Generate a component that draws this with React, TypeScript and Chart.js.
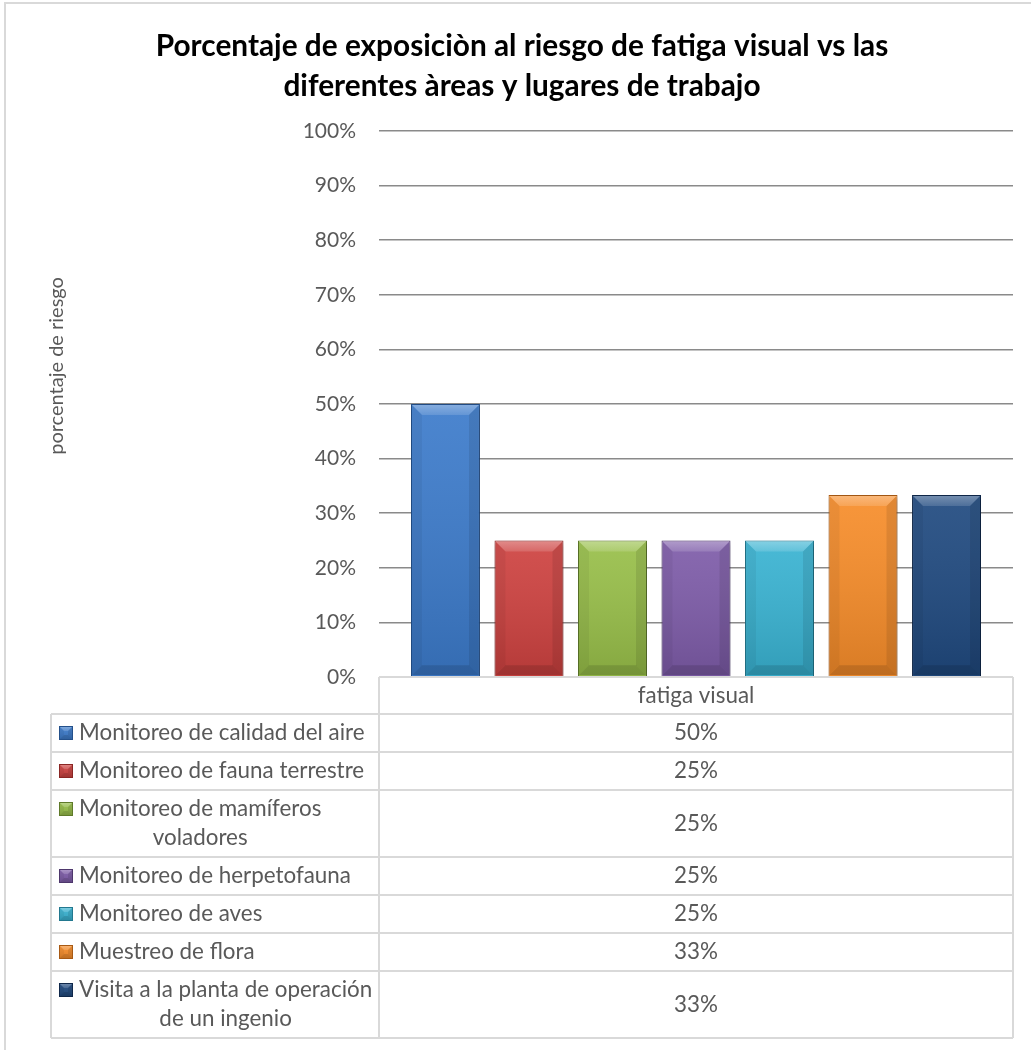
import React, { useEffect, useRef } from 'react';
import { Chart, registerables } from 'chart.js';

Chart.register(...registerables);

const FONT = 'Lato, "Open Sans", "DejaVu Sans", sans-serif';

const categories = ['fatiga visual'];
const seriesNames = [
  'Monitoreo de calidad del aire',
  'Monitoreo de fauna terrestre',
  'Monitoreo de mamíferos voladores',
  'Monitoreo de herpetofauna',
  'Monitoreo de aves',
  'Muestreo de flora',
  'Visita a la planta de operación de un ingenio',
];
const seriesValues = [50, 25, 25, 25, 25, 33.33, 33.33];
const seriesColors = ['#3C7BCB', '#CE4240', '#98BF49', '#7E5CA9', '#39B3D2', '#F78D2A', '#204A80'];
const seriesEdges = ['#24508A', '#8A2624', '#5F7A2A', '#4E376C', '#22788F', '#A85A14', '#10284A'];
const yTicks = [0, 10, 20, 30, 40, 50, 60, 70, 80, 90, 100];
const titleLines = [
  'Porcentaje de exposiciòn al riesgo de fatiga visual vs las',
  'diferentes àreas y lugares de trabajo',
];
const yAxisTitle = 'porcentaje de riesgo';

function wrapText(ctx: CanvasRenderingContext2D, text: string, maxW: number): string[] {
  const words = text.split(' ');
  const lines: string[] = [];
  let cur = '';
  for (const w of words) {
    const test = cur ? cur + ' ' + w : w;
    if (cur && ctx.measureText(test).width > maxW) {
      lines.push(cur);
      cur = w;
    } else {
      cur = test;
    }
  }
  if (cur) lines.push(cur);
  return lines;
}

function drawBevelBox(
  ctx: CanvasRenderingContext2D,
  L: number, T: number, R: number, B: number, b: number,
) {
  const g = ctx.createLinearGradient(0, T, 0, B);
  g.addColorStop(0, 'rgba(255,255,255,0.08)');
  g.addColorStop(1, 'rgba(0,0,0,0.12)');
  ctx.fillStyle = g;
  ctx.fillRect(L, T, R - L, B - T);
  const bb = Math.min(b, (R - L) / 2, (B - T) / 2);
  const tg = ctx.createLinearGradient(0, T, 0, T + bb);
  tg.addColorStop(0, 'rgba(255,255,255,0.32)');
  tg.addColorStop(1, 'rgba(255,255,255,0.14)');
  ctx.fillStyle = tg;
  ctx.beginPath();
  ctx.moveTo(L, T); ctx.lineTo(R, T); ctx.lineTo(R - bb, T + bb); ctx.lineTo(L + bb, T + bb); ctx.closePath();
  ctx.fill();
  ctx.fillStyle = 'rgba(0,0,0,0.05)';
  ctx.beginPath();
  ctx.moveTo(L, T); ctx.lineTo(L + bb, T + bb); ctx.lineTo(L + bb, B - bb); ctx.lineTo(L, B); ctx.closePath();
  ctx.fill();
  ctx.fillStyle = 'rgba(0,0,0,0.09)';
  ctx.beginPath();
  ctx.moveTo(R, T); ctx.lineTo(R - bb, T + bb); ctx.lineTo(R - bb, B - bb); ctx.lineTo(R, B); ctx.closePath();
  ctx.fill();
  ctx.fillStyle = 'rgba(0,0,0,0.12)';
  ctx.beginPath();
  ctx.moveTo(L, B); ctx.lineTo(L + bb, B - bb); ctx.lineTo(R - bb, B - bb); ctx.lineTo(R, B); ctx.closePath();
  ctx.fill();
}

const decorPlugin = {
  id: 'excelDecor',
  beforeDraw(chart: any) {
    const { ctx, width, height } = chart;
    ctx.save();
    ctx.fillStyle = '#ffffff';
    ctx.fillRect(0, 0, width, height);
    ctx.strokeStyle = '#d9d9d9';
    ctx.lineWidth = 2;
    ctx.beginPath();
    ctx.moveTo(5, height);
    ctx.lineTo(5, 3);
    ctx.lineTo(width, 3);
    ctx.stroke();
    ctx.fillStyle = '#000000';
    ctx.font = `bold 29.8px ${FONT}`;
    ctx.textAlign = 'center';
    ctx.textBaseline = 'middle';
    titleLines.forEach((t, i) => ctx.fillText(t, 522, 46 + i * 40));
    ctx.translate(57, 366);
    ctx.rotate(-Math.PI / 2);
    ctx.font = `20px ${FONT}`;
    ctx.fillStyle = '#595959';
    ctx.fillText(yAxisTitle, 0, 0);
    ctx.restore();
  },
  beforeDatasetsDraw(chart: any) {
    const { ctx } = chart;
    ctx.save();
    ctx.shadowColor = 'rgba(0,0,0,0.35)';
    ctx.shadowBlur = 5;
    ctx.shadowOffsetX = 1;
    ctx.shadowOffsetY = 2;
  },
  afterDatasetsDraw(chart: any) {
    const { ctx } = chart;
    ctx.restore();
    ctx.save();
    chart.data.datasets.forEach((_: any, di: number) => {
      const meta = chart.getDatasetMeta(di);
      meta.data.forEach((el: any) => {
        const p = el.getProps(['x', 'y', 'base', 'width'], true);
        const L = p.x - p.width / 2 + 1;
        const R = p.x + p.width / 2 - 1;
        const T = Math.min(p.y, p.base) + 1;
        const B = Math.max(p.y, p.base) - 1;
        drawBevelBox(ctx, L, T, R, B, 10);
      });
    });
    ctx.restore();
  },
  afterDraw(chart: any) {
    const { ctx, chartArea } = chart;
    const tblLeft = 51;
    const colX = chartArea.left;
    const tblRight = chartArea.right;
    const headerTop = chartArea.bottom;
    const headerH = 37;
    const lineH = 29;
    const rowPad = 9;
    const iconX = 59;
    const textX = 79;
    const maxTextW = 296;

    ctx.save();
    ctx.font = `22.4px ${FONT}`;
    ctx.textBaseline = 'middle';

    const datasets = chart.data.datasets;
    const rows = datasets.map((ds: any) => {
      const lines = wrapText(ctx, ds.label, maxTextW);
      return { lines, h: rowPad + lines.length * lineH, ds };
    });
    const bodyTop = headerTop + headerH;
    let y = bodyTop;
    const rowTops: number[] = [];
    rows.forEach((r: any) => { rowTops.push(y); y += r.h; });
    const tblBottom = y;

    ctx.strokeStyle = '#d9d9d9';
    ctx.lineWidth = 2;
    ctx.beginPath();
    ctx.moveTo(colX, headerTop); ctx.lineTo(tblRight, headerTop);
    ctx.moveTo(colX, headerTop); ctx.lineTo(colX, tblBottom);
    ctx.moveTo(tblRight, headerTop); ctx.lineTo(tblRight, tblBottom);
    ctx.moveTo(tblLeft, bodyTop); ctx.lineTo(tblLeft, tblBottom);
    rowTops.forEach((t) => { ctx.moveTo(tblLeft, t); ctx.lineTo(tblRight, t); });
    ctx.moveTo(tblLeft, tblBottom); ctx.lineTo(tblRight, tblBottom);
    ctx.stroke();

    ctx.fillStyle = '#595959';
    ctx.textAlign = 'center';
    ctx.fillText(String(chart.data.labels[0]), (colX + tblRight) / 2, headerTop + headerH / 2);

    rows.forEach((r: any, i: number) => {
      const top = rowTops[i];
      const cy = top + r.h / 2;
      const firstY = cy - ((r.lines.length - 1) * lineH) / 2;
      const ci = datasets.indexOf(r.ds);
      const iT = firstY - 7;
      ctx.fillStyle = r.ds.backgroundColor;
      ctx.fillRect(iconX, iT, 14, 14);
      drawBevelBox(ctx, iconX, iT, iconX + 14, iT + 14, 5);
      ctx.strokeStyle = seriesEdges[ci];
      ctx.lineWidth = 1;
      ctx.strokeRect(iconX + 0.5, iT + 0.5, 13, 13);
      ctx.fillStyle = '#595959';
      const widths = r.lines.map((l: string) => ctx.measureText(l).width);
      const boxW = Math.max(...widths);
      ctx.textAlign = 'center';
      r.lines.forEach((l: string, li: number) => {
        ctx.fillText(l, textX + boxW / 2, firstY + li * lineH);
      });
      const v = r.ds.data[0];
      ctx.fillText(`${Math.round(v)}%`, (colX + tblRight) / 2, cy);
    });
    ctx.restore();
  },
};

export default function App() {
  const canvasRef = useRef<HTMLCanvasElement>(null);

  useEffect(() => {
    const canvas = canvasRef.current;
    if (!canvas) return;
    const chart = new Chart(canvas, {
      type: 'bar',
      data: {
        labels: categories,
        datasets: seriesNames.map((name, i) => ({
          label: name,
          data: [seriesValues[i]],
          backgroundColor: seriesColors[i],
          borderColor: seriesEdges[i],
          borderWidth: 1,
          categoryPercentage: 0.922,
          barPercentage: 0.826,
          clip: false as any,
        })),
      },
      options: {
        responsive: false,
        animation: false,
        devicePixelRatio: 1,
        layout: { padding: { left: 0, right: 18, top: 131, bottom: 373 } },
        plugins: {
          legend: { display: false },
          title: { display: false },
          tooltip: { enabled: false },
        },
        scales: {
          x: { display: false },
          y: {
            min: 0,
            max: 100,
            afterFit: (scale: any) => { scale.width = 379; },
            afterBuildTicks: (scale: any) => { scale.ticks = yTicks.map((v) => ({ value: v })); },
            ticks: {
              stepSize: 10,
              padding: 23,
              color: '#595959',
              font: { family: FONT, size: 21 },
              callback: (v: any) => `${v}%`,
            },
            grid: {
              drawTicks: false,
              color: (c: any) => (c.tick && c.tick.value === 0 ? 'rgba(0,0,0,0)' : '#8a8a8a'),
              lineWidth: 1.5,
            },
            border: { display: false },
          },
        },
      },
      plugins: [decorPlugin],
    });
    return () => chart.destroy();
  }, []);

  return (
    <div style={{ position: 'absolute', left: 0, top: 0, width: 1031, height: 1050, background: '#fff' }}>
      <canvas ref={canvasRef} width={1031} height={1050} style={{ display: 'block', width: 1031, height: 1050 }} />
    </div>
  );
}
